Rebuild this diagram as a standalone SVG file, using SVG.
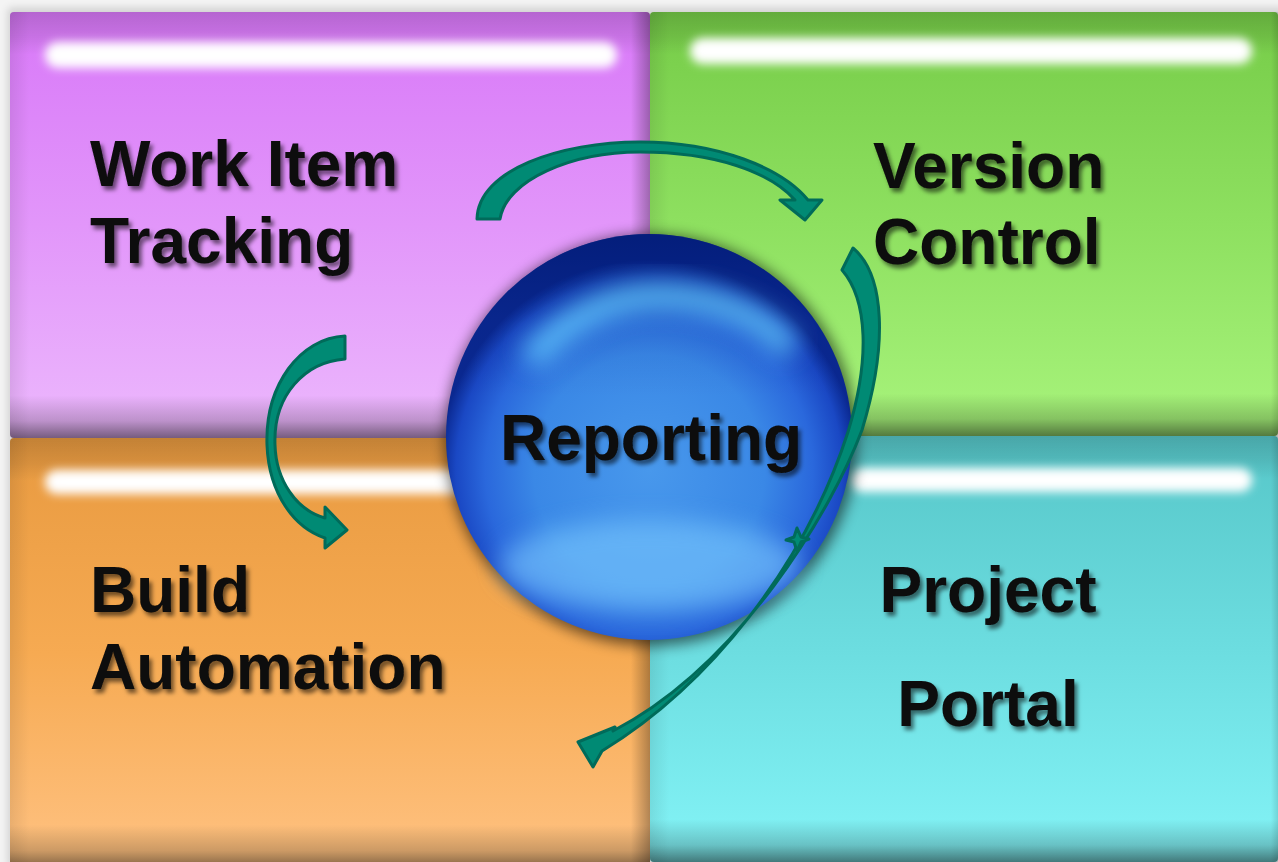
<svg xmlns="http://www.w3.org/2000/svg" width="1278" height="862" viewBox="0 0 1278 862">
<style>
.lbl{font-family:"Liberation Sans",Arial,sans-serif;font-weight:bold;font-size:64px;fill:#0a0a0a;filter:url(#tshadow)}
.arrow{fill:#008a74;stroke:#006b5a;stroke-width:3;stroke-linejoin:round}
.hl{fill:#ffffff;filter:url(#blur4)}
</style>
<defs>
<linearGradient id="gPurple" x1="0" y1="0" x2="0" y2="1"><stop offset="0" stop-color="#d878f8"/><stop offset="0.5" stop-color="#e296fa"/><stop offset="1" stop-color="#ecb8fd"/></linearGradient>
<linearGradient id="gGreen" x1="0" y1="0" x2="0" y2="1"><stop offset="0" stop-color="#76cc48"/><stop offset="0.5" stop-color="#8ee060"/><stop offset="1" stop-color="#a8f47c"/></linearGradient>
<linearGradient id="gOrange" x1="0" y1="0" x2="0" y2="1"><stop offset="0" stop-color="#e89a40"/><stop offset="0.5" stop-color="#f6aa52"/><stop offset="1" stop-color="#ffc282"/></linearGradient>
<linearGradient id="gCyan" x1="0" y1="0" x2="0" y2="1"><stop offset="0" stop-color="#56c6c8"/><stop offset="0.5" stop-color="#6cdde0"/><stop offset="1" stop-color="#84f4f7"/></linearGradient>
<linearGradient id="shadeV" x1="0" y1="0" x2="0" y2="1"><stop offset="0" stop-color="#000" stop-opacity="0.16"/><stop offset="0.06" stop-color="#000" stop-opacity="0.08"/><stop offset="0.1" stop-color="#000" stop-opacity="0"/><stop offset="0.9" stop-color="#000" stop-opacity="0"/><stop offset="0.96" stop-color="#000" stop-opacity="0.2"/><stop offset="1" stop-color="#000" stop-opacity="0.5"/></linearGradient>
<linearGradient id="shadeH" x1="0" y1="0" x2="1" y2="0"><stop offset="0" stop-color="#000" stop-opacity="0.08"/><stop offset="0.03" stop-color="#000" stop-opacity="0"/><stop offset="0.97" stop-color="#000" stop-opacity="0"/><stop offset="1" stop-color="#000" stop-opacity="0.3"/></linearGradient>
<radialGradient id="gSphere" cx="649" cy="470" r="210" gradientUnits="userSpaceOnUse"><stop offset="0" stop-color="#4898ec"/><stop offset="0.55" stop-color="#3a88e6"/><stop offset="0.78" stop-color="#2a68dc"/><stop offset="0.92" stop-color="#1a48c4"/><stop offset="1" stop-color="#0a2890"/></radialGradient>
<linearGradient id="gSphTop" x1="0" y1="0" x2="0" y2="1"><stop offset="0" stop-color="#001870" stop-opacity="0.65"/><stop offset="0.22" stop-color="#001870" stop-opacity="0.1"/><stop offset="0.4" stop-color="#001870" stop-opacity="0"/></linearGradient>
<filter id="blur4" x="-10%" y="-100%" width="120%" height="300%"><feGaussianBlur stdDeviation="5"/></filter>
<filter id="blur12" x="-50%" y="-50%" width="200%" height="200%"><feGaussianBlur stdDeviation="12"/></filter>
<filter id="sphShadow" x="-20%" y="-20%" width="140%" height="140%"><feGaussianBlur stdDeviation="7"/></filter>
<filter id="boxShadow" x="-5%" y="-5%" width="110%" height="110%"><feGaussianBlur stdDeviation="4"/></filter>
<filter id="tshadow" x="-10%" y="-30%" width="120%" height="160%"><feDropShadow dx="3" dy="4" stdDeviation="2" flood-color="#000" flood-opacity="0.55"/></filter>
</defs>
<rect x="0" y="0" width="1278" height="862" fill="#f4f4f4"/>
<rect x="8" y="8" width="1280" height="860" fill="#000" opacity="0.15" filter="url(#boxShadow)"/>

<g id="work-item-tracking">
<rect x="10" y="12" width="640" height="426" rx="4" fill="url(#gPurple)"/>
<rect x="10" y="12" width="640" height="426" rx="4" fill="url(#shadeV)"/>
<rect x="10" y="12" width="640" height="426" rx="4" fill="url(#shadeH)"/>
<rect x="45" y="42" width="572" height="26" rx="13" class="hl"/>
<text class="lbl" x="90" y="186">Work Item</text>
<text class="lbl" x="90" y="263">Tracking</text>
</g>

<g id="version-control">
<rect x="650" y="12" width="628" height="424" rx="4" fill="url(#gGreen)"/>
<rect x="650" y="12" width="628" height="424" rx="4" fill="url(#shadeV)"/>
<rect x="650" y="12" width="640" height="424" rx="4" fill="url(#shadeH)"/>
<rect x="690" y="38" width="562" height="26" rx="13" class="hl"/>
<text class="lbl" x="873" y="188">Version</text>
<text class="lbl" x="873" y="264">Control</text>
</g>

<g id="build-automation">
<rect x="10" y="438" width="640" height="430" rx="4" fill="url(#gOrange)"/>
<rect x="10" y="438" width="640" height="430" rx="4" fill="url(#shadeV)"/>
<rect x="10" y="438" width="640" height="430" rx="4" fill="url(#shadeH)"/>
<rect x="45" y="470" width="600" height="24" rx="12" class="hl"/>
<text class="lbl" x="90" y="612">Build</text>
<text class="lbl" x="90" y="689">Automation</text>
</g>

<g id="project-portal">
<rect x="650" y="436" width="628" height="426" rx="4" fill="url(#gCyan)"/>
<rect x="650" y="436" width="628" height="426" rx="4" fill="url(#shadeV)"/>
<rect x="650" y="436" width="640" height="426" rx="4" fill="url(#shadeH)"/>
<rect x="850" y="468" width="402" height="24" rx="12" class="hl"/>
<text class="lbl" x="988" y="612" text-anchor="middle">Project</text>
<text class="lbl" x="988" y="726" text-anchor="middle">Portal</text>
</g>

<g id="reporting">
<circle cx="651" cy="440" r="206" fill="#000" opacity="0.55" filter="url(#sphShadow)"/>
<circle cx="649" cy="437" r="203" fill="url(#gSphere)"/>
<circle cx="649" cy="437" r="203" fill="url(#gSphTop)"/>
<path d="M 530 360 Q 600 280 700 300 Q 760 312 790 350" fill="none" stroke="#66d2ff" stroke-width="26" opacity="0.75" filter="url(#blur12)"/>
<ellipse cx="650" cy="565" rx="150" ry="45" fill="#7ccaff" opacity="0.6" filter="url(#blur12)"/>
<text class="lbl" x="651" y="460" text-anchor="middle">Reporting</text>
</g>

<g id="connectors">
<path class="arrow" d="M 477 219 C 478 170 560 142 640 142 C 718 142 782 168 808 200 L 822 200 L 805 220 L 780 200 L 795 200 C 770 172 715 152 640 152 C 572 152 506 180 500 219 Z"/>
<path class="arrow" d="M 345 336 C 300 338 265 385 267 445 C 269 495 295 528 325 538 L 325 548 L 347 530 L 325 507 L 325 518 C 296 510 276 480 275 445 C 273 395 305 362 345 359 Z"/>
<path class="arrow" d="M 853 248 C 885 275 888 345 862 430 C 832 510 740 665 613 731 L 615 727 L 578 742 L 593 767 L 602 751 C 710 685 805 565 848 432 C 870 360 868 300 842 270 Z"/>
<path class="arrow" stroke-width="1.5" d="M 797 528 L 801 537 L 809 539 L 801 542 L 797 551 L 794 542 L 786 540 L 794 537 Z"/>
</g>
</svg>
